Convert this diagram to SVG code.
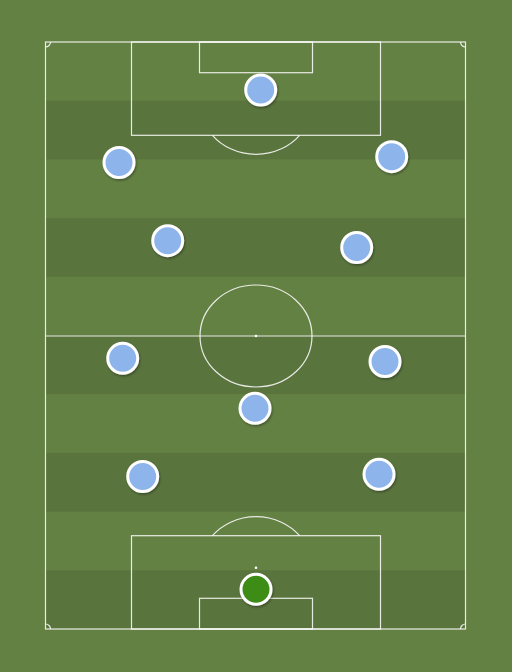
<svg xmlns="http://www.w3.org/2000/svg" width="512" height="672" viewBox="0 0 512 672">
<defs>
<filter id="sh" x="-30%" y="-30%" width="160%" height="160%">
<feDropShadow dx="1" dy="1.5" stdDeviation="1.2" flood-color="#000" flood-opacity="0.35"/>
</filter>
<style>
.ln{fill:none;stroke:#ffffff;stroke-opacity:0.85;stroke-width:1.2}
.dk{fill:#5a743e}
.pl{fill:#8db5ec;stroke:#ffffff;stroke-width:3;filter:url(#sh)}
.gk{fill:#3d8c17;stroke:#ffffff;stroke-width:3;filter:url(#sh)}
</style>
</defs>
<rect width="512" height="672" fill="#648144"/>
<g id="stripes">
<rect class="dk" x="45.5" y="100.7" width="420" height="58.7"/>
<rect class="dk" x="45.5" y="218.1" width="420" height="58.7"/>
<rect class="dk" x="45.5" y="335.5" width="420" height="58.7"/>
<rect class="dk" x="45.5" y="452.9" width="420" height="58.7"/>
<rect class="dk" x="45.5" y="570.3" width="420" height="58.7"/>
</g>
<g id="markings">
<rect class="ln" x="45.5" y="42" width="420" height="587"/>
<line class="ln" x1="45.5" y1="336" x2="465.5" y2="336"/>
<ellipse class="ln" cx="256" cy="336" rx="56" ry="51"/>
<circle cx="256" cy="336" r="1.3" fill="#fff"/>
<rect class="ln" x="131.5" y="42" width="249" height="93.3"/>
<rect class="ln" x="199.5" y="42" width="113" height="30.7"/>
<path class="ln" d="M212.4,135.3 A56,51 0 0 0 299.6,135.3"/>
<circle cx="256" cy="103.3" r="1.3" fill="#fff"/>
<rect class="ln" x="131.5" y="535.7" width="249" height="93.3"/>
<rect class="ln" x="199.5" y="598.3" width="113" height="30.7"/>
<path class="ln" d="M212.4,535.7 A56,51 0 0 1 299.6,535.7"/>
<circle cx="256" cy="567.7" r="1.3" fill="#fff"/>
<path class="ln" d="M45.5,47 A5,5 0 0 0 50.5,42"/>
<path class="ln" d="M460.5,42 A5,5 0 0 0 465.5,47"/>
<path class="ln" d="M45.5,624 A5,5 0 0 1 50.5,629"/>
<path class="ln" d="M460.5,629 A5,5 0 0 1 465.5,624"/>
</g>
<g id="connectors"></g>
<g id="p1"><circle class="pl" cx="260.7" cy="90" r="15"/></g>
<g id="p2"><circle class="pl" cx="119" cy="162.5" r="15"/></g>
<g id="p3"><circle class="pl" cx="391.7" cy="156.7" r="15"/></g>
<g id="p4"><circle class="pl" cx="167.7" cy="240.7" r="15"/></g>
<g id="p5"><circle class="pl" cx="356.7" cy="247.5" r="15"/></g>
<g id="p6"><circle class="pl" cx="122.7" cy="358.3" r="15"/></g>
<g id="p7"><circle class="pl" cx="385" cy="361.5" r="15"/></g>
<g id="p8"><circle class="pl" cx="255" cy="408.3" r="15"/></g>
<g id="p9"><circle class="pl" cx="142.7" cy="476.5" r="15"/></g>
<g id="p10"><circle class="pl" cx="379" cy="474.3" r="15"/></g>
<g id="gk"><circle class="gk" cx="256" cy="589.3" r="15"/></g>
</svg>
